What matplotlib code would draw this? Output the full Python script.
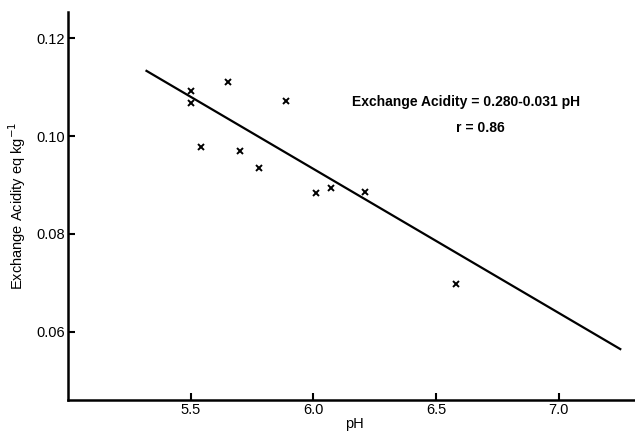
import matplotlib.pyplot as plt

# soil samples
ph = [5.50, 5.50, 5.54, 5.65, 5.70, 5.78, 5.89, 6.01, 6.07, 6.21, 6.58]
acidity = [0.1092, 0.1067, 0.0978, 0.1110, 0.0969, 0.0935, 0.1071, 0.0884, 0.0894, 0.0886, 0.0698]

# regression line end points
line_ph = [5.32, 7.25]
line_acid = [0.1133, 0.0565]

xticks = [5.5, 6.0, 6.5, 7.0]
yticks = [0.06, 0.08, 0.10, 0.12]

plt.rcParams['font.family'] = ['Liberation Sans', 'DejaVu Sans']

fig = plt.figure(figsize=(6.35, 4.32), dpi=100)
ax = fig.add_axes([0.107, 0.074, 0.893, 0.898])

ax.plot(line_ph, line_acid, color="black", lw=1.6)
ax.plot(ph, acidity, ls="none", marker="x", ms=4.5, mew=1.4, color="black")

ax.set_xlim(5.0, 7.31)
ax.set_ylim(0.0461, 0.1253)
ax.set_xticks(xticks)
ax.set_xticklabels(["5.5", "6.0", "6.5", "7.0"])
ax.set_yticks(yticks)
ax.set_yticklabels(["0.06", "0.08", "0.10", "0.12"])

for s in ["top", "right"]:
    ax.spines[s].set_visible(False)
for s in ["left", "bottom"]:
    ax.spines[s].set_linewidth(1.8)
ax.tick_params(direction="in", length=5, width=1.5, labelsize=10.5, pad=2)

ax.set_xlabel("pH", fontsize=10.5)
ax.xaxis.set_label_coords(0.505, -0.043)
ax.set_ylabel("Exchange Acidity eq kg$^{-1}$", fontsize=10.5, labelpad=6)

ax.text(6.62, 0.1069, "Exchange Acidity = 0.280-0.031 pH", fontsize=10,
        ha="center", va="center", fontweight="bold")
ax.text(6.68, 0.1016, "r = 0.86", fontsize=10, ha="center", va="center",
        fontweight="bold")

fig.savefig("out.png", dpi=100)
